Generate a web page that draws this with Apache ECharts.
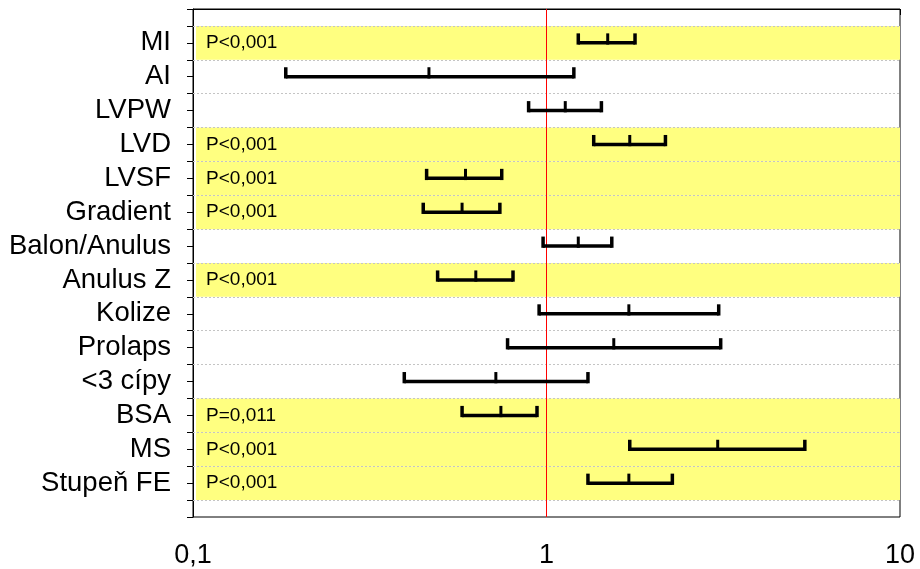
<!DOCTYPE html>
<html>
<head>
<meta charset="utf-8">
<script src="https://cdn.jsdelivr.net/npm/echarts@6/dist/echarts.min.js"></script>
<style>
html,body{margin:0;padding:0;background:#ffffff;}
#chart{width:920px;height:569px;}
</style>
</head>
<body>
<div id="chart"></div>
<script>
// ---- data ----
const categories = ['MI','AI','LVPW','LVD','LVSF','Gradient','Balon/Anulus','Anulus Z','Kolize','Prolaps','<3 cípy','BSA','MS','Stupeň FE'];
const lowerCI  = [1.23, 0.183, 0.89, 1.36, 0.458, 0.448, 0.978, 0.492, 0.953, 0.776, 0.396, 0.577, 1.72, 1.31];
const estimate = [1.49, 0.465, 1.13, 1.72, 0.590, 0.577, 1.23, 0.631, 1.71, 1.55, 0.719, 0.743, 3.05, 1.71];
const upperCI  = [1.78, 1.195, 1.43, 2.17, 0.747, 0.738, 1.53, 0.804, 3.07, 3.11, 1.31, 0.940, 5.38, 2.27];
const pLabels  = ['P<0,001','','','P<0,001','P<0,001','P<0,001','','P<0,001','','','','P=0,011','P<0,001','P<0,001'];
const xTickValues = [0.1, 1, 10];

const FONT = '"Liberation Sans", Arial, sans-serif';

// row positions: category i sits at value i+1 on the (inverted) y axis
const barData = categories.map((c, i) => [i + 1, lowerCI[i], estimate[i], upperCI[i]]);

const bandData = [];
pLabels.forEach((p, i) => {
  if (p) {
    bandData.push([
      { name: p, yAxis: i + 0.5, xAxis: 0.102 },
      { yAxis: i + 1.5, xAxis: 10 }
    ]);
  }
});

const gridLineData = categories.concat(['']).map((c, i) => ({ yAxis: i + 0.5 }));

const chart = echarts.init(document.getElementById('chart'), null, { renderer: 'canvas' });

chart.setOption({
  backgroundColor: '#ffffff',
  animation: false,
  grid: {
    left: 193, right: 20, top: 9, bottom: 51,
    show: true, borderColor: '#000000', borderWidth: 1, backgroundColor: 'transparent'
  },
  xAxis: {
    type: 'log', logBase: 10, min: 0.1, max: 10,
    axisLine: { show: true, lineStyle: { color: '#000000', width: 1 } },
    axisTick: { show: true, length: 6, lineStyle: { color: '#000000' } },
    minorTick: { show: false },
    splitLine: { show: false },
    axisLabel: {
      fontSize: 27, color: '#000000', fontFamily: FONT, margin: 25,
      formatter: v => {
        const r = xTickValues.find(t => Math.abs(t - v) / t < 1e-6);
        return r === undefined ? '' : String(r).replace('.', ',');
      }
    }
  },
  yAxis: {
    type: 'value', min: 0, max: 15, interval: 0.5, inverse: true,
    axisLine: { show: true, lineStyle: { color: '#000000', width: 1 } },
    axisTick: { show: true, length: 6, lineStyle: { color: '#000000' } },
    splitLine: { show: false },
    axisLabel: {
      fontSize: 27.5, color: '#000000', fontFamily: FONT, margin: 22,
      formatter: v => (Number.isInteger(v) && v >= 1 && v <= categories.length) ? categories[v - 1] : ''
    }
  },
  series: [
    {
      name: 'bands', type: 'line', data: [], silent: true, z: 1,
      markArea: {
        silent: true,
        itemStyle: { color: '#FFFF80', opacity: 1, borderWidth: 0 },
        label: {
          show: true, position: 'insideLeft', distance: 10,
          fontSize: 19, color: '#000000', fontFamily: FONT,
          formatter: '{b}'
        },
        data: bandData
      }
    },
    {
      name: 'gridlines', type: 'line', data: [], silent: true, z: 2,
      markLine: {
        silent: true, symbol: ['none', 'none'], animation: false,
        label: { show: false },
        lineStyle: { color: '#c4c4c4', type: [2, 2], width: 1 },
        data: gridLineData
      }
    },
    {
      name: 'bars', type: 'custom', z: 5,
      encode: { x: [1, 2, 3], y: 0 },
      data: barData,
      renderItem: (params, api) => {
        const row = api.value(0);
        const pL = api.coord([api.value(1), row]);
        const pM = api.coord([api.value(2), row]);
        const pH = api.coord([api.value(3), row]);
        const lw = 3.5;
        const h = 9.5;
        const base = pL[1] + lw / 2;
        const st = { stroke: '#000000', lineWidth: lw, lineCap: 'butt' };
        return {
          type: 'group',
          children: [
            { type: 'line', shape: { x1: pL[0], y1: pL[1], x2: pH[0], y2: pH[1] }, style: st },
            { type: 'line', shape: { x1: pL[0], y1: base, x2: pL[0], y2: pL[1] - h }, style: st },
            { type: 'line', shape: { x1: pM[0], y1: base, x2: pM[0], y2: pM[1] - h }, style: { stroke: '#000000', lineWidth: 3, lineCap: 'butt' } },
            { type: 'line', shape: { x1: pH[0], y1: base, x2: pH[0], y2: pH[1] - h }, style: st }
          ]
        };
      }
    },
    {
      name: 'reference', type: 'line', data: [], silent: true, z: 10,
      markLine: {
        silent: true, symbol: ['none', 'none'], animation: false,
        label: { show: false },
        lineStyle: { color: '#ff0000', type: 'solid', width: 1 },
        data: [{ xAxis: 1 }]
      }
    }
  ]
});
</script>
</body>
</html>
